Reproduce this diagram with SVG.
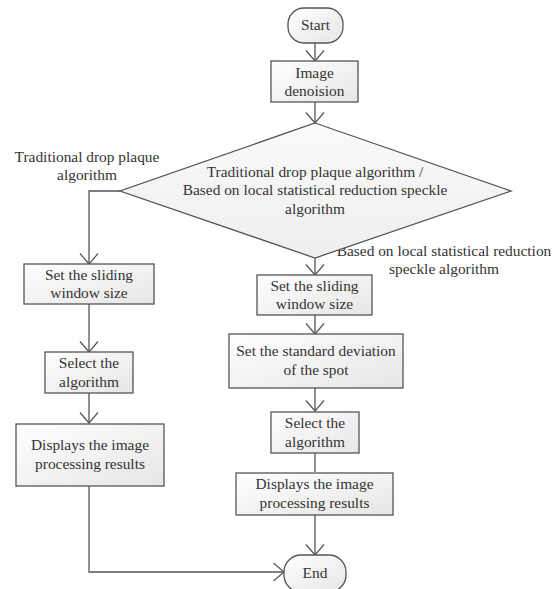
<svg xmlns="http://www.w3.org/2000/svg" width="554" height="589" viewBox="0 0 554 589" font-family="'Liberation Serif', 'DejaVu Serif', serif">
<defs>
<linearGradient id="g" x1="0" y1="0" x2="1" y2="1">
<stop offset="0" stop-color="#ffffff"/>
<stop offset="1" stop-color="#e6e6e6"/>
</linearGradient>
<linearGradient id="gd" x1="0" y1="0" x2="0" y2="1">
<stop offset="0" stop-color="#fafafa"/>
<stop offset="1" stop-color="#eeeeee"/>
</linearGradient>
<marker id="arr" viewBox="-12 -10 14 20" refX="0" refY="0" markerWidth="14" markerHeight="20" markerUnits="userSpaceOnUse" orient="auto">
<path d="M-10.5,-9 L0,0 L-10.5,9" fill="none" stroke="#555" stroke-width="1.2"/>
</marker>
<style>
.box{fill:url(#g);stroke:#555;stroke-width:1.3}
.dia{fill:url(#gd);stroke:#555;stroke-width:1.3}
.t{font-size:15.4px;fill:#333;text-anchor:middle}
.c{fill:none;stroke:#555;stroke-width:1.3}
</style>
</defs>
<rect width="554" height="589" fill="#fff"/>
<g id="connectors">
<line class="c" x1="315" y1="43" x2="315" y2="61" marker-end="url(#arr)"/>
<line class="c" x1="315" y1="102" x2="315" y2="123" marker-end="url(#arr)"/>
<polyline class="c" points="120,191 89,191 89,264" marker-end="url(#arr)"/>
<line class="c" x1="315" y1="258" x2="315" y2="275" marker-end="url(#arr)"/>
<line class="c" x1="89" y1="304" x2="89" y2="352" marker-end="url(#arr)"/>
<line class="c" x1="89" y1="393" x2="89" y2="423" marker-end="url(#arr)"/>
<polyline class="c" points="89,486 89,572 284,572" marker-end="url(#arr)"/>
<line class="c" x1="315" y1="315" x2="315" y2="334" marker-end="url(#arr)"/>
<line class="c" x1="315" y1="388" x2="315" y2="411" marker-end="url(#arr)"/>
<line class="c" x1="315" y1="453" x2="315" y2="472"/>
<line class="c" x1="315" y1="515" x2="315" y2="555" marker-end="url(#arr)"/>
<text class="t" x="87" y="162">Traditional drop plaque</text>
<text class="t" x="87" y="180">algorithm</text>
<text class="t" x="444" y="256">Based on local statistical reduction</text>
<text class="t" x="444" y="274">speckle algorithm</text>
</g>
<g id="start">
<rect class="box" x="288" y="8" width="55" height="35" rx="16" ry="16"/>
<text class="t" x="315.5" y="30">Start</text>
</g>
<g id="denoise">
<rect class="box" x="271" y="61" width="87" height="41"/>
<text class="t" x="314.5" y="78">Image</text>
<text class="t" x="314.5" y="96">denoision</text>
</g>
<g id="decision">
<polygon class="dia" points="315,123 511,191 315,258 120,191"/>
<text class="t" x="315" y="177">Traditional drop plaque algorithm /</text>
<text class="t" x="315" y="195">Based on local statistical reduction speckle</text>
<text class="t" x="315" y="214">algorithm</text>
</g>
<g id="left-window">
<rect class="box" x="24" y="264" width="130" height="40"/>
<text class="t" x="89" y="280">Set the sliding</text>
<text class="t" x="89" y="298">window size</text>
</g>
<g id="left-select">
<rect class="box" x="45" y="352" width="88" height="41"/>
<text class="t" x="89" y="368">Select the</text>
<text class="t" x="89" y="387">algorithm</text>
</g>
<g id="left-display">
<rect class="box" x="16" y="424" width="148" height="62"/>
<text class="t" x="90" y="450">Displays the image</text>
<text class="t" x="90" y="469">processing results</text>
</g>
<g id="right-window">
<rect class="box" x="257" y="275" width="115" height="40"/>
<text class="t" x="314.5" y="291">Set the sliding</text>
<text class="t" x="314.5" y="309">window size</text>
</g>
<g id="right-std">
<rect class="box" x="229" y="334" width="174" height="54"/>
<text class="t" x="316" y="356">Set the standard deviation</text>
<text class="t" x="316" y="375">of the spot</text>
</g>
<g id="right-select">
<rect class="box" x="271" y="412" width="88" height="41"/>
<text class="t" x="315" y="428">Select the</text>
<text class="t" x="315" y="447">algorithm</text>
</g>
<g id="right-display">
<rect class="box" x="236" y="473" width="157" height="42"/>
<text class="t" x="314.5" y="489">Displays the image</text>
<text class="t" x="314.5" y="508">processing results</text>
</g>
<g id="end">
<rect class="box" x="284" y="555" width="62" height="37" rx="17" ry="17"/>
<text class="t" x="315" y="578">End</text>
</g>
</svg>
